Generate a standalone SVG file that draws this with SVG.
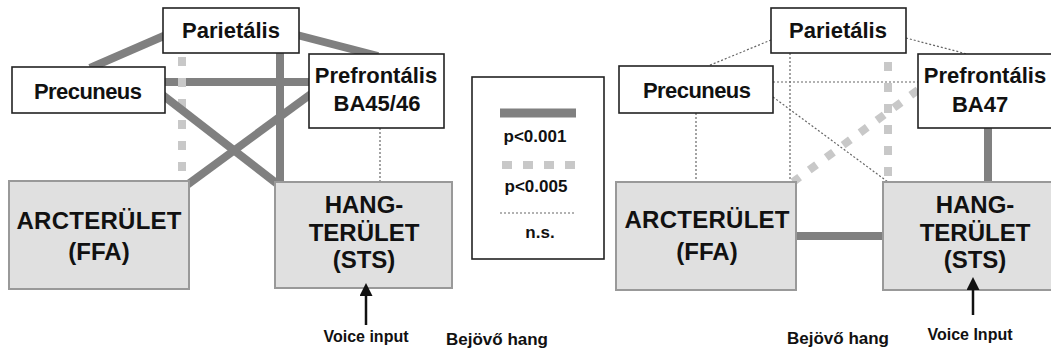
<svg xmlns="http://www.w3.org/2000/svg" width="1051" height="351" viewBox="0 0 1051 351">
<style>
text{font-family:"Liberation Sans",Arial,sans-serif;font-weight:bold;fill:#111;text-anchor:middle}
.wb{fill:#fff;stroke:#222;stroke-width:1.6}
.gb{fill:#e0e0e0;stroke:#999;stroke-width:2}
.t1{font-size:22px}
.t2{font-size:24px}
.lg{font-size:17px}
.sm{font-size:16px}
.bj{font-size:17px}
.thick{stroke:#808080;stroke-width:8;fill:none}
.light{stroke:#c8c8c8;stroke-width:8;stroke-dasharray:9 12;fill:none}
.ns{stroke:#666;stroke-width:1.2;stroke-dasharray:2 2;fill:none}
.arr{stroke:#111;stroke-width:2.5;fill:none}
</style>
<defs>
<marker id="ah" viewBox="0 0 13 13" markerWidth="13" markerHeight="13" refX="0" refY="6.5" orient="auto" markerUnits="userSpaceOnUse">
<path d="M0,0 L13,6.5 L0,13 Z" fill="#111"/>
</marker>
</defs>
<g id="connectors">
<line class="thick" x1="90" y1="68" x2="166" y2="35"/>
<line class="thick" x1="297" y1="35" x2="378" y2="56"/>
<line class="thick" x1="165" y1="82" x2="309" y2="82"/>
<line class="thick" x1="280" y1="53" x2="280" y2="182"/>
<line class="light" x1="182" y1="57" x2="182" y2="181"/>
<line class="thick" x1="160" y1="93" x2="280" y2="186"/>
<line class="thick" x1="311" y1="94" x2="187" y2="185"/>
<line class="ns" x1="380" y1="128" x2="380" y2="182"/>
<line class="ns" x1="771" y1="40" x2="708" y2="66"/>
<line class="ns" x1="906" y1="38" x2="967" y2="54"/>
<line class="ns" x1="773" y1="82" x2="918" y2="82"/>
<line class="ns" x1="790" y1="53" x2="790" y2="182"/>
<line class="ns" x1="696" y1="113" x2="696" y2="182"/>
<line class="ns" x1="773" y1="97" x2="888" y2="182"/>
<line class="light" x1="888" y1="62" x2="888" y2="182"/>
<line class="light" x1="918" y1="90" x2="793" y2="182"/>
<line class="thick" x1="796" y1="236" x2="883" y2="236"/>
<line class="thick" x1="988" y1="128" x2="988" y2="182"/>
</g>
<g id="L-parietalis"><rect class="wb" x="163" y="8" width="136" height="45"/><text class="t1" x="231" y="38">Parietális</text></g>
<g id="L-precuneus"><rect class="wb" x="12" y="67" width="153" height="46"/><text class="t1" x="88" y="99" textLength="108">Precuneus</text></g>
<g id="L-prefrontalis"><rect class="wb" x="309" y="54" width="135" height="74"/><text class="t1" x="376" y="83">Prefrontális</text><text class="t1" x="377" y="111">BA45/46</text></g>
<g id="L-arc"><rect class="gb" x="9" y="181" width="180" height="108"/><text class="t2" x="99" y="229" textLength="165">ARCTERÜLET</text><text class="t2" x="99" y="260">(FFA)</text></g>
<g id="L-hang"><rect class="gb" x="275" y="182" width="177" height="106"/><text class="t2" x="364" y="213">HANG-</text><text class="t2" x="364" y="241">TERÜLET</text><text class="t2" x="364" y="268">(STS)</text></g>
<g id="L-labels"><text class="sm" x="366" y="342">Voice input</text><text class="bj" x="497" y="345">Bejövő hang</text></g>
<g id="legend">
<rect class="wb" x="472" y="77" width="132" height="182"/>
<line x1="500" y1="113" x2="576" y2="113" stroke="#808080" stroke-width="9"/>
<text class="lg" x="535" y="142">p&lt;0.001</text>
<line x1="502" y1="165" x2="580" y2="165" stroke="#c8c8c8" stroke-width="8" stroke-dasharray="10 11"/>
<text class="lg" x="536" y="192">p&lt;0.005</text>
<line class="ns" x1="500" y1="213" x2="576" y2="213"/>
<text class="lg" x="540" y="238">n.s.</text>
</g>
<g id="R-parietalis"><rect class="wb" x="771" y="8" width="135" height="45"/><text class="t1" x="838" y="38">Parietális</text></g>
<g id="R-precuneus"><rect class="wb" x="619" y="66" width="154" height="47"/><text class="t1" x="697" y="98" textLength="108">Precuneus</text></g>
<g id="R-prefrontalis"><rect class="wb" x="918" y="54" width="134" height="74"/><text class="t1" x="985" y="83">Prefrontális</text><text class="t1" x="980" y="112">BA47</text></g>
<g id="R-arc"><rect class="gb" x="616" y="182" width="180" height="108"/><text class="t2" x="707" y="228" textLength="165">ARCTERÜLET</text><text class="t2" x="707" y="260">(FFA)</text></g>
<g id="R-hang"><rect class="gb" x="883" y="182" width="200" height="108"/><text class="t2" x="975" y="213">HANG-</text><text class="t2" x="975" y="241">TERÜLET</text><text class="t2" x="975" y="268">(STS)</text></g>
<g id="R-labels"><text class="sm" x="970" y="340">Voice Input</text><text class="bj" x="838" y="344">Bejövő hang</text></g>
<g id="input-arrows">
<line class="arr" x1="366" y1="325" x2="366" y2="296" marker-end="url(#ah)"/>
<line class="arr" x1="973" y1="315" x2="973" y2="290" marker-end="url(#ah)"/>
</g>
</svg>
